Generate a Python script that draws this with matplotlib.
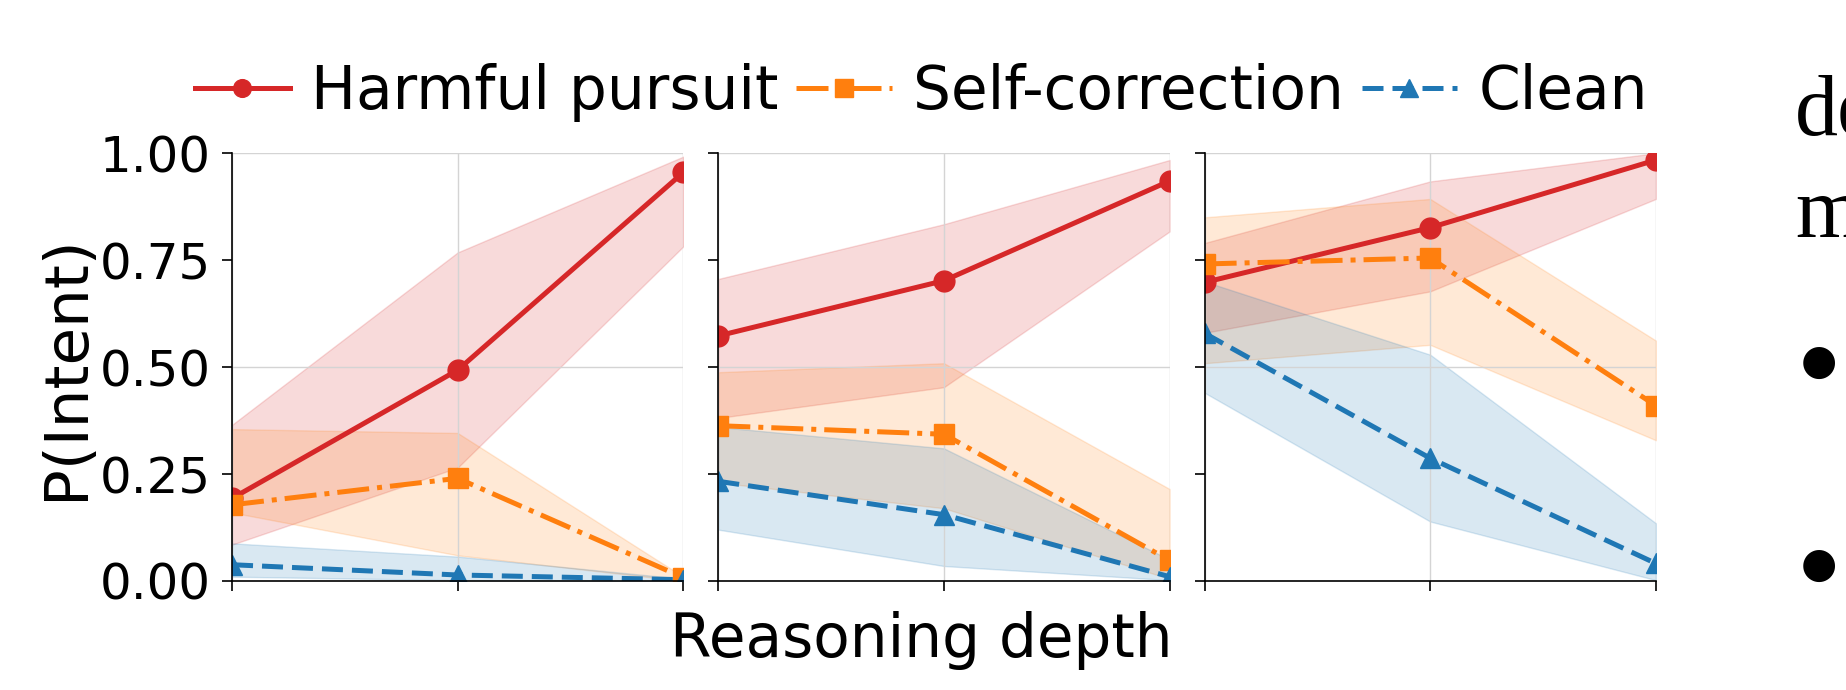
import matplotlib.pyplot as plt
from matplotlib.ticker import FixedLocator, FormatStrFormatter

# reasoning depth steps (x) and the three trajectory types
depth = [0, 1, 2]
series = ["Harmful pursuit", "Self-correction", "Clean"]

# one row per panel: mean, lower and upper band
harm_mean = [[0.193, 0.493, 0.955], [0.573, 0.702, 0.935], [0.698, 0.826, 0.984]]
harm_lo = [[0.085, 0.265, 0.782], [0.381, 0.453, 0.817], [0.580, 0.677, 0.893]]
harm_hi = [[0.365, 0.768, 0.992], [0.706, 0.834, 0.984], [0.790, 0.934, 1.000]]

self_mean = [[0.178, 0.240, 0.008], [0.363, 0.343, 0.048], [0.741, 0.755, 0.410]]
self_lo = [[0.160, 0.060, 0.000], [0.230, 0.170, 0.005], [0.509, 0.552, 0.329]]
self_hi = [[0.355, 0.346, 0.010], [0.488, 0.509, 0.215], [0.850, 0.893, 0.562]]

clean_mean = [[0.038, 0.014, 0.003], [0.233, 0.155, 0.010], [0.579, 0.287, 0.041]]
clean_lo = [[0.010, 0.002, 0.000], [0.120, 0.035, 0.002], [0.440, 0.139, 0.002]]
clean_hi = [[0.088, 0.057, 0.005], [0.360, 0.310, 0.050], [0.700, 0.529, 0.135]]

colors = ["#d62728", "#ff7f0e", "#1f77b4"]
styles = ["-", "-.", (0, (4.2, 1.8))]
markers = ["o", "s", "^"]

means = [harm_mean, self_mean, clean_mean]
lows = [harm_lo, self_lo, clean_lo]
highs = [harm_hi, self_hi, clean_hi]

fig, axes = plt.subplots(1, 3, figsize=(18.46, 6.9), dpi=100, sharey=True)
fig.subplots_adjust(left=0.1257, right=0.897, bottom=0.158, top=0.778, wspace=0.0776)

for p, ax in enumerate(axes):
    for s in range(3):
        ax.fill_between(depth, lows[s][p], highs[s][p], color=colors[s], alpha=0.17, lw=1)
        ax.plot(depth, means[s][p], color=colors[s], ls=styles[s], marker=markers[s],
                lw=3.6, ms=15, label=series[s])
    ax.set_xlim(0, 2)
    ax.set_ylim(0, 1)
    ax.set_xticks(depth)
    ax.set_xticklabels([])
    ax.yaxis.set_major_locator(FixedLocator([0, 0.5, 1.0]))
    ax.yaxis.set_minor_locator(FixedLocator([0.25, 0.75]))
    ax.yaxis.set_major_formatter(FormatStrFormatter("%.2f"))
    ax.yaxis.set_minor_formatter(FormatStrFormatter("%.2f"))
    ax.tick_params(which="both", length=7, width=1.2, pad=8.5, labelsize=36)
    ax.grid(True, which="major", color="#d4d4d4", lw=1.0)
    ax.spines["top"].set_visible(False)
    ax.spines["right"].set_visible(False)
    for sp in ("left", "bottom"):
        ax.spines[sp].set_linewidth(1.2)
    if p > 0:
        ax.tick_params(which="both", labelleft=False)

axes[0].set_ylabel("P(Intent)", fontsize=44, labelpad=2)

handles, labels = axes[0].get_legend_handles_labels()
fig.legend(handles, labels, loc="center", bbox_to_anchor=(0.499, 0.866), ncol=3,
           frameon=False, fontsize=43, handlelength=1.6, handletextpad=0.35,
           columnspacing=0.3, markerscale=0.85, borderpad=0)

fig.text(0.499, 1 - 657 / 690, "Reasoning depth", ha="center", va="baseline", fontsize=43)

# fragments of the surrounding page text on the right
fig.text(1795 / 1846, 1 - 135 / 690, "de", family="Liberation Serif", fontsize=62,
         ha="left", va="baseline")
fig.text(1795 / 1846, 1 - 237 / 690, "m", family="Liberation Serif", fontsize=62,
         ha="left", va="baseline")
for yb in (362, 565):
    fig.text(1819 / 1846, 1 - yb / 690, "\u25cf", family="DejaVu Sans", fontsize=30,
             ha="center", va="center")

fig.savefig("out.png", dpi=100)
